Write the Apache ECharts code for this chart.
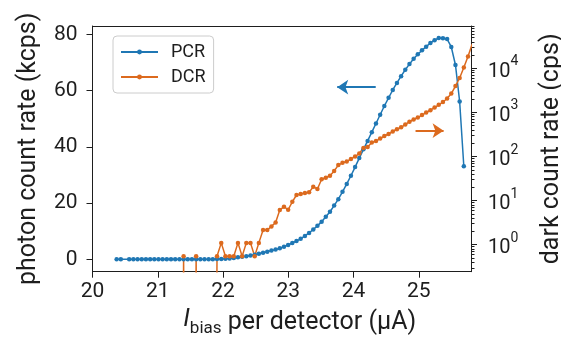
<!DOCTYPE html>
<html><head><meta charset="utf-8">
<script src="https://cdn.jsdelivr.net/npm/echarts@6/dist/echarts.min.js"></script>
<style>html,body{margin:0;padding:0;background:#fff}#c{width:561px;height:339px}</style>
</head><body><div id="c"></div>
<script>
// bias current per detector (µA)
const biasCurrent = [20.370,20.434,20.498,20.562,20.626,20.691,20.755,20.819,20.883,20.947,
21.011,21.075,21.139,21.203,21.267,21.332,21.396,21.460,21.524,21.588,
21.652,21.716,21.780,21.844,21.908,21.973,22.037,22.101,22.165,22.229,
22.293,22.357,22.421,22.485,22.549,22.614,22.678,22.742,22.806,22.870,
22.934,22.998,23.062,23.126,23.190,23.255,23.319,23.383,23.447,23.511,
23.575,23.639,23.703,23.767,23.831,23.896,23.960,24.024,24.088,24.152,
24.216,24.280,24.344,24.408,24.472,24.537,24.601,24.665,24.729,24.793,
24.857,24.921,24.985,25.049,25.113,25.178,25.242,25.306,25.370,25.434,
25.498,25.562,25.626,25.690,25.754,25.818];
// photon count rate (kcps); null = not measured
const pcrValues = [0,0,null,0,0,0,0,0,0,0,
0,0,0,0,0,0,0,0,0,0,
0,0,0,0.05,0.1,0.15,0.2,0.3,0.5,0.7,
0.9,1.1,1.35,1.65,1.95,2.3,2.7,3.1,3.5,3.9,
4.5,5.1,5.8,6.5,7.3,8.3,9.4,10.6,11.9,13.4,
15.1,16.9,19.1,21.4,24.0,26.8,29.7,32.8,36.0,39.1,
42.1,45.2,48.3,51.4,54.5,57.4,60.2,62.7,65.1,67.4,
69.4,71.3,72.9,74.3,75.6,76.9,77.9,78.7,78.6,78.3,
75.5,69.1,56.1,33.1,null,null];
// dark count rate (cps); 0 = no counts
const dcrValues = [0,0,0,0,0,0,0,0,0,0,
0,0,0,0,0,0,0.55,0,0,0.55,
0,0,0,0,0.55,1.1,0.55,0.55,0.55,1.1,
0.55,1.1,1.1,0.55,1.1,2.15,2.15,2.6,3.2,6.1,
7.3,6.2,9.4,13.4,14.1,14.9,15.4,20.7,18.3,30.4,
33,36.7,46.9,64,72,77,88,100,117,156,
164,208,224,256,292,324,369,416,459,532,
615,690,766,873,995,1122,1291,1487,1722,2066,
2685,3970,6030,10400,18500,35500];
const xTicks = [20,21,22,23,24,25];
const pcrTicks = [0,20,40,60,80];
const dcrDecades = [0,1,2,3,4];
// annotation arrows [tail, head]
const arrowPCR = [[24.34,61.2],[23.75,61.2]];
const arrowDCR = [[24.95,385],[25.38,385]];

const BLUE = '#1f77b4', ORANGE = '#dc6a1e', INK = '#1e1e1e', FONT = 'Roboto';
const lg = v => v > 0 ? Math.log10(v) : -20;
const pcrData = [], dcrData = [];
biasCurrent.forEach((x,i) => {
  if (pcrValues[i] !== null && pcrValues[i] !== undefined) pcrData.push([x, pcrValues[i]]);
  dcrData.push([x, lg(dcrValues[i])]);
});
const LMIN = -0.612, LMAX = 4.96;
const minorTicks = [];
for (let n=-1;n<=4;n++) for (let k=2;k<=9;k++){const v=Math.log10(k*Math.pow(10,n)); if(v>LMIN&&v<LMAX) minorTicks.push(v);}

const chart = echarts.init(document.getElementById('c'), null, {renderer:'canvas'});
const axisLine = {show:true, onZero:false, lineStyle:{color:INK, width:1}};
chart.setOption({
  animation:false,
  backgroundColor:'#fff',
  grid:{left:92.5, top:26, right:90, bottom:67.3, containLabel:false, outerBoundsMode:'none'},
  legend:{
    data:['PCR','DCR'], orient:'vertical', left:113, top:36,
    itemWidth:37, itemHeight:6, itemGap:5, padding:[6,8,6,7],
    borderColor:'#cccccc', borderWidth:1, borderRadius:4, backgroundColor:'#fff',
    textStyle:{fontFamily:FONT, fontSize:18, color:INK, lineHeight:20, padding:[0,0,0,8]}
  },
  xAxis:[{
    type:'value', min:20, max:25.8, position:'bottom',
    axisLine, splitLine:{show:false},
    axisTick:{show:true, inside:false, length:6, customValues:xTicks, lineStyle:{color:INK}},
    axisLabel:{customValues:xTicks, fontFamily:FONT, fontSize:21, color:INK, margin:10},
    name:'{i|I}{s|bias} per detector (µA)', nameLocation:'middle', nameGap:35,
    nameTextStyle:{fontFamily:FONT, fontSize:25, color:INK, padding:[0,0,0,36],
      rich:{i:{fontFamily:FONT, fontSize:25, fontStyle:'italic', color:INK, lineHeight:30, verticalAlign:'top'},
            s:{fontFamily:FONT, fontSize:17, color:INK, lineHeight:17, verticalAlign:'bottom'}}}
  },{
    type:'value', min:20, max:25.8, position:'top',
    axisLine, axisTick:{show:false}, axisLabel:{show:false}, splitLine:{show:false}
  }],
  yAxis:[{
    type:'value', min:-4.4, max:82.95, position:'left',
    axisLine, splitLine:{show:false},
    axisTick:{show:true, length:6, customValues:pcrTicks, lineStyle:{color:INK}},
    axisLabel:{customValues:pcrTicks, fontFamily:FONT, fontSize:21, color:INK, margin:15},
    name:'photon count rate (kcps)', nameLocation:'middle', nameGap:51,
    nameTextStyle:{fontFamily:FONT, fontSize:25, color:INK}
  },{
    type:'value', min:LMIN, max:LMAX, position:'right',
    axisLine, splitLine:{show:false},
    axisTick:{show:true, length:6, customValues:dcrDecades, lineStyle:{color:INK}},
    axisLabel:{customValues:dcrDecades, margin:17, color:INK,
      formatter: v => '{b|10}{s|' + Math.round(v) + '}',
      rich:{b:{fontFamily:FONT, fontSize:20, color:INK, lineHeight:27, verticalAlign:'bottom'},
            s:{fontFamily:FONT, fontSize:14, color:INK, lineHeight:14, verticalAlign:'top'}}},
    name:'dark count rate (cps)', nameLocation:'middle', nameGap:68, nameRotate:90,
    nameTextStyle:{fontFamily:FONT, fontSize:25, color:INK}
  },{
    type:'value', min:LMIN, max:LMAX, position:'right',
    axisLine:{show:false}, splitLine:{show:false}, axisLabel:{show:false},
    axisTick:{show:true, length:3.5, customValues:minorTicks, lineStyle:{color:INK}}
  }],
  series:[{
    name:'PCR', type:'line', xAxisIndex:0, yAxisIndex:0, data:pcrData,
    symbol:'circle', symbolSize:4.5, showSymbol:true, clip:true,
    lineStyle:{width:1.5, color:BLUE}, itemStyle:{color:BLUE},
    markLine:{silent:true, symbol:['none','arrow'], symbolSize:11, label:{show:false},
      lineStyle:{type:'solid', width:2, color:BLUE},
      data:[[{coord:arrowPCR[0]},{coord:arrowPCR[1]}]]}
  },{
    name:'DCR', type:'line', xAxisIndex:0, yAxisIndex:1, data:dcrData,
    symbol:'circle', symbolSize:4.5, showSymbol:true, clip:true,
    lineStyle:{width:1.5, color:ORANGE}, itemStyle:{color:ORANGE},
    markLine:{silent:true, symbol:['none','arrow'], symbolSize:11, label:{show:false},
      lineStyle:{type:'solid', width:2, color:ORANGE},
      data:[[{coord:[arrowDCR[0][0], lg(arrowDCR[0][1])]},{coord:[arrowDCR[1][0], lg(arrowDCR[1][1])]}]]}
  }]
});
</script></body></html>
